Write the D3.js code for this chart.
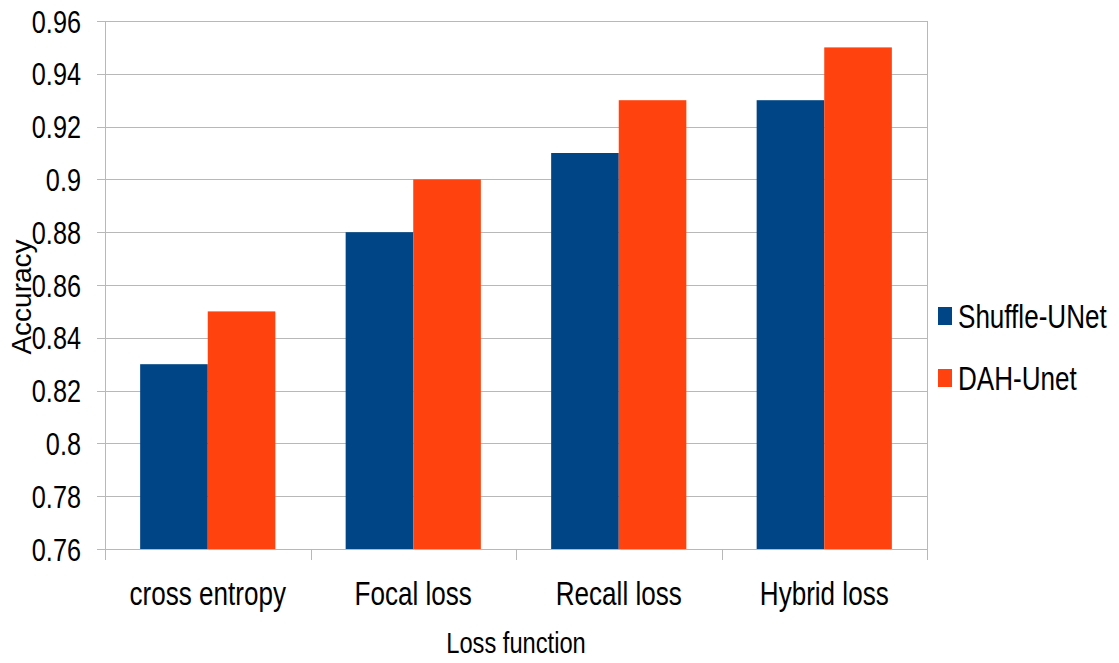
<!DOCTYPE html>
<html>
<head>
<meta charset="utf-8">
<script src="https://cdn.jsdelivr.net/npm/d3@7/dist/d3.min.js"></script>
<style>
  html, body { margin: 0; padding: 0; background: #fff; }
  svg { display: block; }
  text { font-family: "Liberation Sans", Arial, sans-serif; fill: #000; }
</style>
</head>
<body>
<svg id="chart" width="1119" height="663"></svg>
<script>
// Accuracy per loss function for the two networks
const categories = ["cross entropy", "Focal loss", "Recall loss", "Hybrid loss"];
const seriesNames = ["Shuffle-UNet", "DAH-Unet"];
const shuffleUNet = [0.83, 0.88, 0.91, 0.93];
const dahUnet = [0.85, 0.90, 0.93, 0.95];
const yTicks = [0.76, 0.78, 0.8, 0.82, 0.84, 0.86, 0.88, 0.9, 0.92, 0.94, 0.96];
const colors = ["#004586", "#ff420e"];

const seriesValues = [shuffleUNet, dahUnet];
const svg = d3.select("#chart");

const plot = { left: 105, right: 927, top: 21, bottom: 549 };
const narrow = 0.79; // horizontal condensation of all lettering

const x = d3.scaleBand().domain(categories).range([plot.left, plot.right]).paddingInner(0).paddingOuter(0);
const inner = d3.scaleBand().domain(seriesNames).range([0, x.bandwidth()]).paddingInner(0).paddingOuter(0.52);
const y = d3.scaleLinear().domain([0.76, 0.96]).range([plot.bottom, plot.top]);

const gridColor = "#b8b8b8";

// horizontal grid lines and y tick marks
svg.append("g").selectAll("line").data(yTicks).join("line")
  .attr("x1", plot.left - 8).attr("x2", plot.right)
  .attr("y1", d => Math.round(y(d)) + 0.5).attr("y2", d => Math.round(y(d)) + 0.5)
  .attr("stroke", gridColor).attr("stroke-width", 1);

// left axis line and right border
svg.append("line").attr("x1", plot.left + 0.5).attr("x2", plot.left + 0.5)
  .attr("y1", plot.top).attr("y2", plot.bottom + 11).attr("stroke", gridColor);
svg.append("line").attr("x1", plot.right + 0.5).attr("x2", plot.right + 0.5)
  .attr("y1", plot.top).attr("y2", plot.bottom + 11).attr("stroke", gridColor);

// category boundary ticks along the bottom
svg.append("g").selectAll("line").data(categories.slice(1)).join("line")
  .attr("x1", d => Math.round(x(d)) + 0.5).attr("x2", d => Math.round(x(d)) + 0.5)
  .attr("y1", plot.bottom).attr("y2", plot.bottom + 11)
  .attr("stroke", gridColor);

// bars
const groups = svg.append("g").selectAll("g").data(categories).join("g")
  .attr("transform", d => `translate(${x(d)},0)`);
groups.selectAll("rect")
  .data((c, i) => seriesNames.map((s, k) => ({ s, k, v: seriesValues[k][i] })))
  .join("rect")
  .attr("x", d => inner(d.s))
  .attr("width", inner.bandwidth())
  .attr("y", d => y(d.v))
  .attr("height", d => y(0.76) - y(d.v))
  .attr("fill", d => colors[d.k]);

// condensed text helper
function label(g, txt, px, py, size, anchor) {
  return g.append("text")
    .attr("transform", `translate(${px},${py}) scale(${narrow},1)`)
    .attr("text-anchor", anchor)
    .attr("font-size", size)
    .text(txt);
}

// y tick labels
const yLab = svg.append("g");
yTicks.forEach(t => {
  label(yLab, d3.format("")(+t.toFixed(2)), 81, y(t) + 11.5, 32, "end");
});

// x category labels
const xLab = svg.append("g");
categories.forEach(c => {
  label(xLab, c, x(c) + x.bandwidth() / 2, 605, 33, "middle");
});

// axis titles
label(svg, "Loss function", (plot.left + plot.right) / 2, 653, 30, "middle");
svg.append("text")
  .attr("transform", `translate(31,297) rotate(-90)`)
  .attr("text-anchor", "middle")
  .attr("font-size", 28)
  .text("Accuracy");

// legend
const legend = svg.append("g");
seriesNames.forEach((s, k) => {
  const ly = 328 + k * 62;
  legend.append("rect").attr("x", 938).attr("y", ly - 21).attr("width", 14).attr("height", 18)
    .attr("fill", colors[k]);
  label(legend, s, 958, ly, 33, "start");
});
</script>
</body>
</html>
